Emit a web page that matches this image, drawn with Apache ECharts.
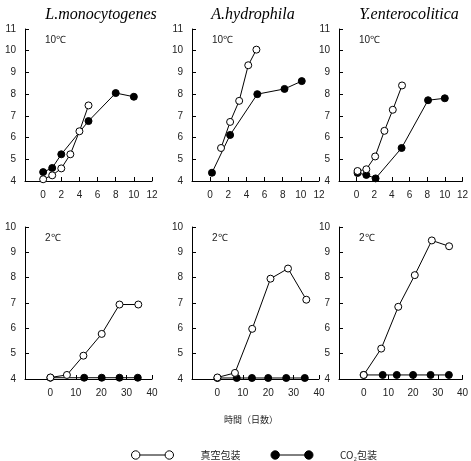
<!DOCTYPE html>
<html>
<head>
<meta charset="utf-8">
<script src="https://cdn.jsdelivr.net/npm/echarts@6/dist/echarts.min.js"></script>
<style>
html,body{margin:0;padding:0;background:#fff;}
#main{width:471px;height:461px;}
</style>
</head>
<body>
<div id="main"></div>
<script>
// 各菌の名前と温度
var species = ['L.monocytogenes', 'A.hydrophila', 'Y.enterocolitica'];
var temps = ['10℃', '2℃'];
var legendNames = ['真空包装', 'CO₂包装'];
var xName = '時間（日数）';

// 10℃ の結果 [日数, 菌数(log)]
var lmVac10 = [[0,4.08],[1,4.26],[2,4.58],[3,5.23],[4,6.29],[5,7.48]];
var lmCO2_10 = [[0,4.41],[1,4.6],[2,5.23],[5,6.76],[8,8.05],[10,7.88]];
var ahVac10 = [[1.2,5.52],[2.2,6.72],[3.2,7.69],[4.2,9.33],[5.1,10.05]];
var ahCO2_10 = [[0.2,4.38],[2.2,6.12],[5.2,8.0],[8.2,8.24],[10.1,8.6]];
var yeVac10 = [[0.1,4.46],[1.1,4.54],[2.1,5.13],[3.15,6.31],[4.1,7.28],[5.15,8.4]];
var yeCO2_10 = [[0.1,4.37],[1.1,4.28],[2.15,4.12],[5.1,5.52],[8.1,7.72],[10,7.81]];

// 2℃ の結果
var lmVac2 = [[0,4.06],[6.5,4.16],[13,4.92],[20.2,5.78],[27.2,6.94],[34.6,6.94]];
var lmCO2_2 = [[0,4.05],[13.3,4.05],[20.2,4.05],[27.2,4.05],[34.4,4.05]];
var ahVac2 = [[0,4.06],[6.9,4.24],[13.7,5.98],[20.9,7.96],[27.8,8.36],[35,7.13]];
var ahCO2_2 = [[0,4.04],[7.6,4.04],[13.6,4.04],[20,4.04],[27.1,4.04],[34.4,4.04]];
var yeVac2 = [[0,4.16],[7.1,5.2],[14,6.85],[20.7,8.1],[27.6,9.47],[34.6,9.24]];
var yeCO2_2 = [[0,4.16],[7.7,4.16],[13.4,4.16],[20,4.16],[27.1,4.16],[34.5,4.16]];

// 軸の目盛り
var xTop = {min: -2, max: 12, interval: 2};
var xBottom = {min: -10, max: 40, interval: 10};
var yTop = {min: 4, max: 11, interval: 1};
var yBottom = {min: 4, max: 10, interval: 1};

var vacData = [lmVac10, ahVac10, yeVac10, lmVac2, ahVac2, yeVac2];
var co2Data = [lmCO2_10, ahCO2_10, yeCO2_10, lmCO2_2, ahCO2_2, yeCO2_2];

var lefts = [25, 192, 339];
var tops = [29, 227];
var labelFont = 'Liberation Sans';

var myChart = echarts.init(document.getElementById('main'));

var grids = [], xAxes = [], yAxes = [], series = [], titles = [];
for (var r = 0; r < 2; r++) {
    for (var c = 0; c < 3; c++) {
        var i = r * 3 + c;
        var xs = r === 0 ? xTop : xBottom;
        var ys = r === 0 ? yTop : yBottom;
        grids.push({left: lefts[c], top: tops[r], width: 127, height: 152});
        xAxes.push({
            type: 'value', gridIndex: i,
            min: xs.min, max: xs.max, interval: xs.interval,
            splitLine: {show: false},
            axisLine: {onZero: false, lineStyle: {color: '#000', width: 1}},
            axisTick: {inside: true, length: 4, lineStyle: {color: '#000'}},
            axisLabel: {
                color: '#222', fontSize: 10, fontFamily: labelFont, margin: 9,
                formatter: function (v) { return v < 0 ? '' : v; }
            }
        });
        yAxes.push({
            type: 'value', gridIndex: i,
            min: ys.min, max: ys.max, interval: ys.interval,
            splitLine: {show: false},
            axisLine: {show: true, onZero: false, lineStyle: {color: '#000', width: 1}},
            axisTick: {show: true, inside: true, length: 4, lineStyle: {color: '#000'}},
            axisLabel: {color: '#222', fontSize: 10, fontFamily: labelFont, margin: 9}
        });
        series.push({
            name: legendNames[0], type: 'line', xAxisIndex: i, yAxisIndex: i,
            data: vacData[i], symbol: 'circle', symbolSize: 7, clip: false, z: 3,
            lineStyle: {color: '#000', width: 1},
            itemStyle: {color: '#fff', borderColor: '#000', borderWidth: 1},
            emphasis: {disabled: true}
        });
        series.push({
            name: legendNames[1], type: 'line', xAxisIndex: i, yAxisIndex: i,
            data: co2Data[i], symbol: 'circle', symbolSize: 7, clip: false, z: 2,
            lineStyle: {color: '#000', width: 1},
            itemStyle: {color: '#000', borderColor: '#000', borderWidth: 1},
            emphasis: {disabled: true}
        });
        titles.push({
            text: temps[r], left: lefts[c] + 15, top: tops[r] + 1,
            textStyle: {fontSize: 10, fontWeight: 'normal', color: '#222', fontFamily: labelFont}
        });
    }
}
var titleCenters = [96, 248, 404];
for (var k = 0; k < 3; k++) {
    titles.push({
        text: species[k], left: titleCenters[k], top: 2, textAlign: 'center',
        textStyle: {fontSize: 16, fontStyle: 'italic', fontWeight: 'normal', color: '#000', fontFamily: 'Liberation Serif'}
    });
}
titles.push({
    text: xName, left: 246, top: 410, textAlign: 'center',
    textStyle: {fontSize: 9, fontWeight: 'normal', color: '#222', fontFamily: 'Noto Sans CJK JP'}
});

var legendIcon = 'path://M0,5a5,5 0 1,0 10,0a5,5 0 1,0 -10,0M10,5L40,5M40,5a5,5 0 1,0 10,0a5,5 0 1,0 -10,0';

var option = {
    animation: false,
    title: titles,
    grid: grids,
    xAxis: xAxes,
    yAxis: yAxes,
    legend: {
        left: 126, top: 445,
        itemWidth: 42, itemHeight: 9, itemGap: 30,
        selectedMode: false,
        textStyle: {fontSize: 10, color: '#222', fontFamily: 'Noto Sans CJK JP', padding: [0, 0, 0, 22]},
        data: [
            {name: legendNames[0], icon: legendIcon, itemStyle: {color: '#fff', borderColor: '#000', borderWidth: 1}},
            {name: legendNames[1], icon: legendIcon, itemStyle: {color: '#000', borderColor: '#000', borderWidth: 1}}
        ]
    },
    series: series
};
myChart.setOption(option);
</script>
</body>
</html>
